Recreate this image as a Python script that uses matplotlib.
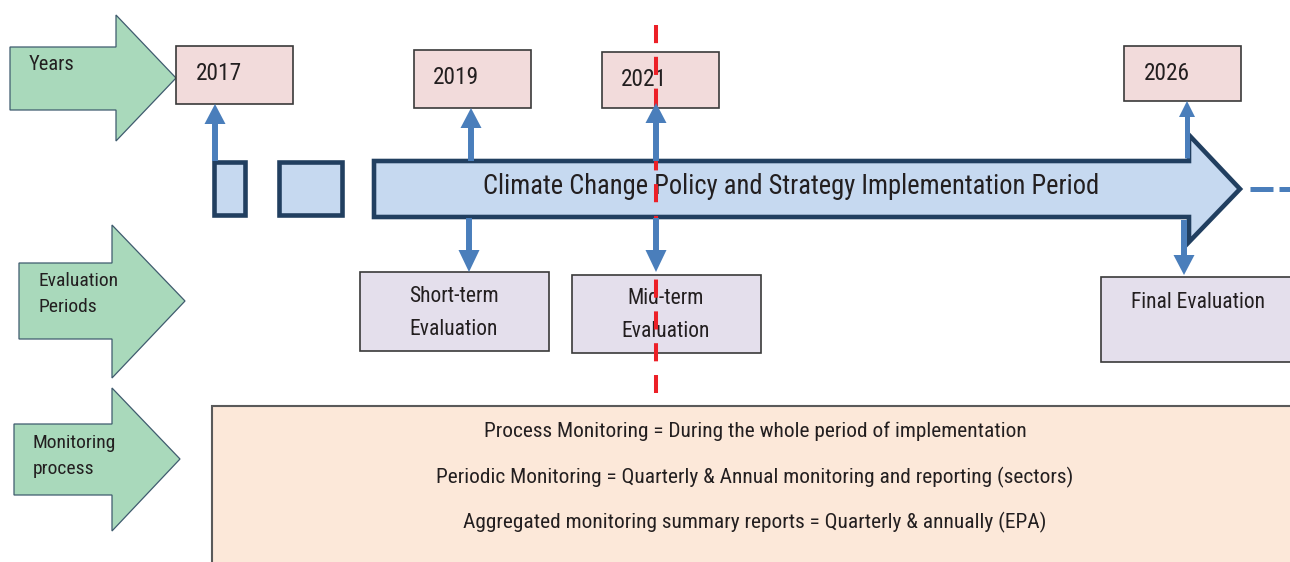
import matplotlib
matplotlib.use("Agg")
import matplotlib.pyplot as plt
from matplotlib.patches import Polygon, Rectangle
from matplotlib import font_manager

# ---------------- content ----------------
row_labels = ["Years", "Evaluation\nPeriods", "Monitoring\nprocess"]
year_labels = ["2017", "2019", "2021", "2026"]
eval_labels = ["Short-term\nEvaluation", "Mid-term\nEvaluation", "Final Evaluation"]
main_label = "Climate Change Policy and Strategy Implementation Period"
monitor_lines = [
    "Process Monitoring = During the whole period of implementation",
    "Periodic Monitoring = Quarterly & Annual monitoring and reporting (sectors)",
    "Aggregated monitoring summary reports = Quarterly & annually (EPA)",
]

# ---------------- layout (pixel units) ----------------
W, H = 1290, 562
# green arrows: (x0, body_top, body_bot, head_x, head_top, head_bot, tip_x, tip_y)
green_geom = [
    (10, 47, 110, 116, 15, 141, 176, 78),
    (19, 263, 339, 112, 225, 378, 185, 301),
    (14, 424, 495, 112, 388, 531, 180, 459),
]
green_text_pos = [(29, 65), (38, 294), (33, 456)]
green_text_size = [14.8, 14.0, 14.0]

year_boxes = [(176, 46, 293, 104), (414, 50, 531, 108), (602, 52, 719, 108), (1124, 46, 1241, 101)]
year_text_pos = [(196, 73), (433, 77), (621, 80), (1144, 73)]

eval_boxes = [(360, 272, 549, 351), (572, 275, 761, 353), (1101, 277, 1300, 362)]
eval_text_pos = [(454, 313), (666, 315), (1198, 302)]

names = {f.name for f in font_manager.fontManager.ttflist}
FONT, k = "Liberation Sans", 0.85
for cand in ["Nimbus Sans Narrow", "Liberation Sans Narrow", "Arial Narrow", "Arimo Narrow",
             "Roboto Condensed", "Archivo Narrow"]:
    if cand in names:
        FONT, k = cand, 1.0
        break
TXT = "#231f20"

fig = plt.figure(figsize=(W / 100, H / 100), dpi=100)
ax = fig.add_axes([0, 0, 1, 1])
ax.set_xlim(0, W)
ax.set_ylim(H, 0)
ax.axis("off")

# green row arrows
for (x0, bt, bb, hx, ht, hb, tx, ty), lab, (lx, ly), fs in zip(green_geom, row_labels,
                                                               green_text_pos, green_text_size):
    poly = Polygon([(x0, bt), (hx, bt), (hx, ht), (tx, ty), (hx, hb), (hx, bb), (x0, bb)],
                   closed=True, facecolor="#a9d9bb", edgecolor="#3f5b6e", lw=0.9, zorder=1)
    ax.add_patch(poly)
    ax.text(lx, ly, lab, family=FONT, fontsize=fs * k, color=TXT, ha="left", va="center",
            linespacing=1.62, zorder=2)

# year boxes
for (x0, y0, x1, y1), lab, (tx, ty) in zip(year_boxes, year_labels, year_text_pos):
    ax.add_patch(Rectangle((x0, y0), x1 - x0, y1 - y0, facecolor="#f2dbdb",
                           edgecolor="#3a3a3a", lw=1.2, zorder=1))
    ax.text(tx, ty, lab, family=FONT, fontsize=16.8 * k, color=TXT, ha="left", va="center", zorder=2)

# evaluation boxes
for (x0, y0, x1, y1), lab, (tx, ty) in zip(eval_boxes, eval_labels, eval_text_pos):
    ax.add_patch(Rectangle((x0, y0), x1 - x0, y1 - y0, facecolor="#e4dfec",
                           edgecolor="#3a3a3a", lw=1.2, zorder=1))
    ax.text(tx, ty, lab, family=FONT, fontsize=15.5 * k, color=TXT, ha="center", va="center",
            linespacing=1.72, zorder=2)

# monitoring box
ax.add_patch(Rectangle((212, 406), 1100, 200, facecolor="#fce8d9", edgecolor="#5a5a5a",
                       lw=1.5, zorder=1))
for line, y in zip(monitor_lines, [431, 477, 522]):
    ax.text(755, y, line, family=FONT, fontsize=15.4 * k, color=TXT, ha="center", va="center", zorder=2)

# small squares and main arrow
NAVY = "#213f60"
for (x0, x1) in [(214, 245), (279, 342)]:
    ax.add_patch(Rectangle((x0, 162), x1 - x0, 53, facecolor="#c6d9f0", edgecolor=NAVY,
                           lw=3.3, zorder=1, joinstyle="miter"))
main = Polygon([(374, 161), (1189, 161), (1189, 135), (1240, 189), (1189, 242), (1189, 217), (374, 217)],
               closed=True, facecolor="#c6d9f0", edgecolor=NAVY, lw=3.3, joinstyle="miter", zorder=1)
ax.add_patch(main)
ax.text(791, 186, main_label, family=FONT, fontsize=19.1 * k, color=TXT, ha="center", va="center", zorder=2)

# blue dashed continuation
BLUE = "#4a7ebb"
ax.plot([1250, 1292], [189, 189], color=BLUE, lw=3.6, dashes=(4.6, 1.2), solid_capstyle="butt",
        dash_capstyle="butt", zorder=3)

# red dashed mid-term line
ax.plot([656, 656], [25, 393], color="#ec2027", lw=2.9, dashes=(4.5, 3.4), dash_capstyle="butt", zorder=3)


def blue_arrow(x, y_start, y_tip, shaft=4.3, head_w=21, head_l=20):
    d = 1 if y_tip > y_start else -1
    base = y_tip - d * head_l
    ax.plot([x, x], [y_start, base + d * 1], color=BLUE, lw=shaft, solid_capstyle="butt", zorder=4)
    ax.add_patch(Polygon([(x - head_w / 2, base), (x + head_w / 2, base), (x, y_tip)],
                         closed=True, facecolor=BLUE, edgecolor="none", zorder=4))


blue_arrow(215, 161, 104)
blue_arrow(471, 161, 108)
blue_arrow(469, 218, 272, head_l=22)
blue_arrow(656, 161, 103)
blue_arrow(656, 218, 272, head_l=22)
blue_arrow(1187, 158, 101, shaft=3.6, head_w=16, head_l=16)
blue_arrow(1184, 220, 275)

fig.savefig("out.png", dpi=100)
